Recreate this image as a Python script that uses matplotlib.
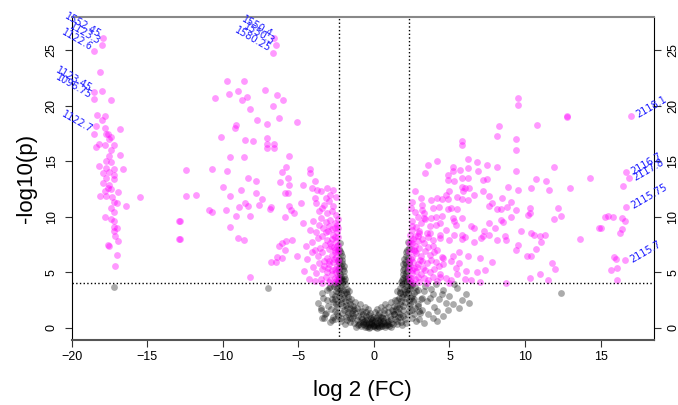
import matplotlib
matplotlib.use("Agg")
import matplotlib.pyplot as plt
import numpy as np

plt.rcParams['font.family'] = ['Liberation Sans', 'DejaVu Sans']

# significant points (log2 FC, -log10 p)
sig_far_left = [
    (-17.9, 26.1), (-17.96, 25.5), (-18.5, 24.9), (-18.1, 23.0),
    (-18.5, 21.2), (-17.96, 21.3), (-18.5, 20.6), (-17.4, 20.5),
    (-18.3, 19.2), (-17.8, 19.1), (-18.0, 18.7), (-18.4, 18.2), (-17.8, 18.0),
    (-16.8, 17.9), (-17.6, 17.5), (-18.5, 17.5), (-17.4, 17.2),
    (-17.7, 17.5), (-17.5, 17.0), (-18.2, 16.6), (-18.4, 16.3), (-17.8, 16.5),
    (-17.2, 16.5), (-17.4, 16.05), (-16.8, 15.6), (-17.5, 15.5), (-17.7, 15.0),
    (-17.4, 14.9), (-18.2, 14.6), (-17.7, 14.4), (-17.2, 14.3), (-16.6, 14.3),
    (-17.9, 13.9), (-17.5, 14.0), (-17.2, 13.8), (-17.7, 13.5), (-17.2, 13.4),
    (-17.9, 13.0), (-17.5, 12.9), (-17.6, 12.6), (-17.4, 12.5), (-17.8, 12.3),
    (-16.9, 12.2), (-18.1, 11.9), (-17.7, 11.9), (-17.3, 11.8), (-17.2, 11.3),
    (-17.0, 11.2), (-16.4, 11.0), (-15.5, 11.8), (-17.4, 10.8), (-17.2, 10.4),
    (-17.8, 10.0), (-17.4, 9.8), (-17.2, 9.6), (-17.2, 9.1), (-17.0, 9.0),
    (-17.2, 8.7), (-17.1, 8.25), (-16.9, 7.8), (-17.6, 7.5), (-17.5, 7.35),
    (-17.0, 6.6), (-17.1, 5.6),
]

sig_mid_left = [
    (-6.6, 26.1), (-6.45, 25.5), (-6.7, 24.8),
    (-12.9, 9.6), (-12.9, 8.0),
    (-9.7, 22.2), (-8.6, 22.2), (-10.5, 20.7), (-9.6, 21.1), (-9.0, 21.3),
    (-8.4, 20.8), (-8.75, 20.5), (-7.2, 21.4), (-6.4, 21.0), (-6.0, 20.5),
    (-6.7, 20.0), (-8.2, 19.7), (-7.7, 18.7), (-7.1, 18.4), (-6.3, 18.9),
    (-5.1, 18.5), (-9.1, 18.3), (-9.2, 18.0), (-10.1, 17.2), (-8.5, 16.9),
    (-8.0, 16.8), (-7.1, 17.1), (-7.05, 16.6), (-7.05, 16.2), (-6.6, 16.6),
    (-6.6, 16.2), (-9.5, 15.4), (-8.6, 15.4), (-5.6, 15.5), (-12.4, 14.2),
    (-10.7, 14.3), (-9.7, 14.1), (-5.8, 14.5), (-6.05, 14.0), (-5.7, 13.5),
    (-8.3, 13.5), (-7.8, 13.2), (-6.2, 13.1), (-5.6, 12.9), (-4.7, 12.9),
    (-4.2, 14.3), (-4.2, 13.9), (-3.9, 13.2), (-10.0, 12.7), (-8.8, 12.4),
    (-12.4, 11.9), (-11.8, 12.0), (-9.5, 11.9), (-7.8, 12.1), (-5.9, 12.1),
    (-5.7, 12.1), (-4.1, 12.6), (-3.75, 12.4), (-7.4, 11.6), (-3.9, 11.7),
    (-3.2, 11.7), (-8.5, 11.2), (-8.3, 11.0), (-7.6, 11.1), (-8.9, 10.9),
    (-6.8, 10.9), (-6.9, 10.7), (-5.6, 11.0), (-5.5, 10.6), (-5.3, 10.3),
    (-4.8, 11.2), (-10.9, 10.6), (-10.7, 10.4), (-9.8, 10.6), (-9.1, 10.1),
    (-8.2, 10.1), (-5.9, 10.0), (-12.8, 9.6), (-9.5, 9.1), (-4.7, 9.4),
    (-12.8, 8.0), (-9.0, 8.1), (-8.6, 7.9), (-6.3, 7.35), (-6.05, 7.6),
    (-5.8, 7.8), (-5.4, 7.9), (-5.9, 7.0), (-5.1, 6.5), (-6.4, 6.4),
    (-6.8, 5.9), (-6.5, 5.9), (-6.1, 6.3), (-8.2, 4.6),
]

sig_near_left = [
    (-2.4, 4.2), (-2.6, 4.5), (-2.9, 4.3), (-3.2, 4.6), (-3.5, 4.4), (-2.5, 5.0),
    (-2.8, 5.2), (-3.1, 5.0), (-3.4, 5.3), (-3.8, 4.9), (-2.45, 5.6), (-2.7, 5.9),
    (-3.0, 5.7), (-3.3, 6.0), (-3.6, 5.8), (-4.0, 5.5), (-2.5, 6.4), (-2.8, 6.6),
    (-3.1, 6.3), (-3.4, 6.8), (-3.7, 6.5), (-2.4, 7.0), (-2.65, 7.3), (-2.95, 7.1),
    (-3.25, 7.5), (-3.55, 7.2), (-3.9, 7.0), (-2.5, 7.8), (-2.8, 8.0), (-3.1, 7.9),
    (-3.4, 8.3), (-3.7, 8.1), (-4.1, 7.7), (-2.45, 8.6), (-2.75, 8.9), (-3.05, 8.7),
    (-3.35, 9.0), (-3.65, 9.3), (-2.6, 9.4), (-2.9, 9.7), (-3.2, 9.5), (-3.5, 9.9),
    (-2.5, 10.2), (-2.8, 10.5), (-3.1, 10.3), (-3.4, 10.8), (-2.7, 11.0), (-3.0, 11.4),
    (-3.3, 11.1), (-2.5, 11.8), (-2.9, 12.0), (-3.6, 10.5), (-4.2, 8.8), (-4.4, 6.2),
    (-4.6, 5.1), (-2.35, 4.7), (-2.35, 5.3), (-2.35, 6.1), (-2.35, 6.8), (-2.35, 7.5),
    (-2.35, 8.2), (-2.35, 9.0), (-2.35, 9.8), (-2.6, 4.1), (-3.0, 4.1), (-3.4, 4.05),
    (-3.9, 4.2), (-4.3, 4.4), (-2.55, 5.3), (-2.65, 6.2), (-2.55, 7.0), (-2.9, 7.6),
    (-3.0, 6.0), (-2.7, 8.4), (-3.2, 8.6), (-2.6, 9.0), (-3.3, 5.6), (-4.5, 7.4),
    (-4.0, 9.6), (-3.8, 11.2), (-3.5, 12.3), (-3.1, 12.6), (-2.7, 12.4), (-4.1, 6.8),
    (-3.8, 8.6), (-2.45, 4.4), (-2.75, 4.8), (-3.05, 5.35), (-2.4, 6.0), (-2.6, 6.8),
    (-2.85, 7.4), (-2.45, 7.4), (-2.55, 8.2), (-2.95, 9.2), (-2.45, 9.3),
]

sig_right = [
    (9.5, 20.7), (9.5, 20.1), (12.8, 19.0), (12.8, 19.1), (8.3, 18.2), (10.8, 18.3),
    (8.15, 17.3), (9.4, 17.0), (9.4, 16.0), (5.8, 16.8), (5.8, 16.5), (3.55, 14.7),
    (4.2, 15.0), (3.4, 13.9), (5.2, 14.5), (6.25, 15.2), (6.8, 14.9), (7.45, 14.7),
    (8.15, 14.5), (6.9, 14.1), (5.7, 14.2), (6.25, 14.4), (4.9, 13.8), (5.2, 14.1),
    (5.8, 13.5), (6.25, 13.5), (4.9, 13.3), (5.3, 13.2), (7.2, 13.3), (7.5, 13.4),
    (9.4, 14.1), (10.7, 13.4), (11.4, 13.2), (11.9, 14.5), (14.3, 13.5), (13.0, 12.6),
    (11.6, 12.4), (10.4, 12.6), (9.5, 12.4), (8.9, 12.7), (7.2, 12.3), (5.8, 12.7),
    (6.0, 12.6), (6.3, 12.6), (5.9, 12.3), (6.6, 12.0), (5.0, 12.3), (4.8, 12.0),
    (4.9, 11.6), (4.2, 11.7), (4.5, 11.6), (3.8, 11.5), (5.5, 11.8), (5.8, 11.6),
    (6.2, 11.5), (7.6, 11.9), (8.5, 11.7), (9.1, 11.3), (7.8, 11.2), (7.6, 11.0),
    (8.8, 10.9), (8.15, 10.7), (8.4, 10.7), (9.4, 10.6), (10.3, 10.8), (10.3, 10.3),
    (10.2, 10.2), (12.2, 10.8), (12.4, 10.1), (11.9, 9.8), (9.1, 10.0), (8.4, 9.7),
    (8.55, 9.5), (7.6, 9.4), (8.0, 9.0), (3.2, 11.1), (3.9, 10.8), (4.3, 10.9),
    (4.9, 10.7), (5.1, 10.8), (5.5, 10.7), (3.3, 10.3), (3.3, 9.9), (3.8, 9.9),
    (4.1, 10.0), (4.5, 10.1), (5.2, 9.9), (5.85, 9.9), (5.3, 9.6), (4.1, 9.3),
    (4.35, 9.4), (5.45, 9.3), (6.45, 9.2), (6.6, 9.0), (2.5, 9.2), (4.8, 8.8),
    (3.7, 8.5), (4.35, 8.4), (5.3, 8.4), (5.8, 8.4), (6.0, 8.2), (7.2, 8.3),
    (7.3, 8.7), (7.6, 8.4), (8.7, 8.3), (8.75, 7.9), (8.15, 7.9), (7.1, 8.1),
    (3.0, 8.5), (2.75, 8.3), (2.9, 7.8), (3.55, 8.2), (3.9, 7.9), (4.4, 8.1),
    (5.0, 7.9), (5.85, 8.0), (6.6, 7.7), (9.7, 8.7), (10.4, 8.5), (10.6, 8.4),
    (11.0, 8.3), (11.35, 8.4), (11.05, 7.7), (13.6, 8.0), (9.5, 7.5), (9.4, 7.0),
    (10.1, 6.5), (10.4, 6.5), (10.7, 7.1), (11.8, 5.8), (12.0, 5.3), (11.0, 4.8),
    (11.5, 4.3), (10.3, 4.5), (8.75, 4.0), (7.0, 4.1), (6.85, 5.0), (7.35, 5.2),
    (7.8, 5.9), (7.05, 6.3), (6.2, 6.5), (5.65, 6.8), (6.1, 5.1), (6.45, 4.3),
    (6.0, 4.4), (5.65, 5.8), (5.45, 5.4), (5.5, 4.8), (5.1, 4.3), (5.0, 4.0),
    (4.8, 4.5), (4.35, 4.8), (4.55, 5.7), (5.1, 6.0), (5.2, 6.5), (4.55, 6.3),
    (14.9, 9.0),
    (17.0, 19.1), (16.7, 14.0), (16.85, 13.5), (16.5, 12.8), (16.7, 10.9),
    (15.3, 10.0), (15.5, 10.1), (15.8, 10.0), (16.4, 9.9), (16.6, 9.6), (15.0, 9.0),
    (16.4, 8.9), (16.25, 8.5), (15.9, 6.4), (16.0, 6.2), (16.6, 6.1), (16.1, 5.4),
    (15.7, 5.2), (16.05, 4.3),
]

sig_near_right = [
    (2.4, 4.2), (2.7, 4.4), (3.0, 4.1), (3.3, 4.5), (3.6, 4.3), (3.9, 4.6), (4.2, 4.2),
    (2.5, 4.9), (2.8, 5.1), (3.1, 4.8), (3.4, 5.2), (3.7, 5.0), (4.0, 5.3), (2.4, 5.6),
    (2.6, 5.9), (2.9, 5.7), (3.2, 6.0), (3.5, 5.8), (3.8, 6.1), (4.1, 5.9), (2.5, 6.4),
    (2.8, 6.7), (3.1, 6.5), (3.4, 6.9), (3.7, 6.6), (4.0, 6.8), (2.45, 7.1), (2.7, 7.4),
    (3.0, 7.2), (3.3, 7.6), (3.6, 7.3), (2.6, 8.0), (2.9, 8.3), (3.2, 8.0), (3.5, 8.5),
    (2.5, 8.8), (2.8, 9.1), (3.1, 9.4), (2.35, 4.6), (2.35, 5.3), (2.35, 6.0),
    (2.35, 6.8), (2.35, 7.6), (2.4, 8.4), (2.55, 9.6), (2.9, 10.0), (2.6, 4.0),
    (3.5, 4.05), (4.4, 4.6), (4.3, 5.6), (4.5, 6.4), (2.65, 5.4), (3.05, 6.1),
    (2.75, 6.9), (3.25, 5.4), (2.55, 7.6), (3.9, 7.4), (4.2, 7.0), (3.0, 8.7),
    (3.7, 9.2), (3.35, 9.8), (2.75, 10.4), (3.15, 10.6), (2.45, 10.8), (2.7, 12.3),
    (3.1, 11.7), (2.5, 11.3), (2.45, 4.5), (2.9, 4.6), (2.55, 5.2), (2.45, 6.2),
    (2.65, 7.0), (2.45, 7.8), (2.85, 5.5),
]

# non-significant points
ns_core = [
    (-1.42, 0.9), (-1.31, 0.42), (-1.22, 1.31), (-1.15, 0.68), (-1.08, 0.21),
    (-1.02, 1.05), (-0.95, 1.52), (-0.91, 0.49), (-0.86, 0.12), (-0.8, 0.83),
    (-0.74, 1.24), (-0.69, 0.33), (-0.63, 0.62), (-0.58, 0.05), (-0.55, 1.02),
    (-0.49, 0.41), (-0.44, 0.78), (-0.4, 0.18), (-0.35, 1.12), (-0.31, 0.55),
    (-0.26, 0.08), (-0.22, 0.9), (-0.17, 0.35), (-0.12, 0.66), (-0.08, 0.15),
    (-0.03, 1.0), (0.02, 0.28), (0.06, 0.6), (0.1, 0.04), (0.15, 0.85),
    (0.19, 0.42), (0.24, 0.17), (0.28, 1.15), (0.33, 0.52), (0.37, 0.09),
    (0.42, 0.74), (0.47, 0.31), (0.51, 1.0), (0.56, 0.2), (0.61, 0.58),
    (0.66, 1.3), (0.7, 0.4), (0.75, 0.06), (0.8, 0.9), (0.85, 0.25),
    (0.9, 0.62), (0.95, 1.45), (1.0, 0.15), (1.05, 1.1), (1.1, 0.45),
    (1.16, 0.8), (1.22, 1.6), (1.28, 0.35), (1.35, 1.2), (1.42, 0.75),
    (-0.98, 0.3), (-0.6, 0.25), (-0.2, 0.5), (0.12, 0.22), (0.45, 0.12),
    (0.72, 0.22), (-0.45, 0.1), (-0.75, 0.55), (0.3, 0.7), (0.6, 0.85),
    (-0.1, 0.4), (-0.35, 0.3), (0.85, 0.5), (1.15, 0.1), (-1.2, 0.1),
    (0.0, 0.12), (0.2, 0.02), (-0.3, 0.02), (0.5, 0.45), (-0.55, 0.7),
    (0.95, 0.3), (-0.85, 1.0), (0.38, 0.95), (-0.05, 0.75), (-1.35, 1.6),
    (-1.6, 0.55), (1.55, 0.35), (1.6, 1.0), (-1.7, 1.2),
    (-1.1, 1.75), (-0.8, 1.55), (-0.55, 1.4), (-0.25, 1.3), (0.05, 1.45),
    (0.35, 1.35), (0.65, 1.6), (0.9, 1.85), (-0.95, 2.1), (-0.6, 1.9),
    (0.2, 1.7), (0.75, 2.15), (1.1, 2.3), (-1.25, 2.35), (-0.4, 1.65),
    (0.5, 1.9), (-1.9, 0.35), (-2.2, 0.6), (1.85, 0.25), (2.15, 0.45),
]

ns_left_arm = [
    (-1.55, 1.75), (-1.72, 1.45), (-1.85, 2.05), (-1.62, 2.4), (-2.0, 1.6),
    (-1.95, 2.7), (-2.15, 2.2), (-1.78, 3.05), (-2.3, 2.9), (-2.05, 3.4),
    (-2.42, 1.9), (-2.55, 2.6), (-2.2, 3.7), (-1.9, 3.9), (-2.5, 3.3),
    (-2.7, 2.3), (-2.35, 4.1), (-2.08, 4.4), (-2.25, 4.8), (-1.98, 5.1),
    (-2.3, 5.4), (-2.12, 5.8), (-2.28, 6.2), (-2.18, 6.7), (-2.3, 7.1),
    (-2.25, 7.6), (-2.8, 3.0), (-2.9, 3.7), (-3.05, 2.0), (-3.25, 1.2),
    (-2.6, 1.5), (-2.35, 1.1), (-2.1, 1.3), (-1.85, 1.0), (-1.4, 2.0),
    (-1.3, 1.7), (-2.65, 3.8), (-2.45, 3.6), (-1.7, 2.75), (-2.4, 2.3),
    (-2.85, 1.7), (-3.1, 3.4), (-3.35, 2.7), (-2.0, 4.7), (-2.15, 3.1),
    (-1.8, 3.5), (-2.28, 5.0), (-2.2, 4.3), (-1.9, 4.4), (-2.1, 6.1),
    (-1.95, 5.6), (-2.6, 0.8), (-2.9, 0.5), (-3.5, 1.6), (-3.4, 0.9),
    (-1.45, 1.3), (-1.6, 2.1), (-1.75, 1.8), (-1.9, 2.4), (-2.05, 2.0),
    (-2.2, 2.6), (-2.35, 3.2), (-2.5, 2.1), (-2.6, 2.9), (-2.75, 2.6),
    (-1.65, 3.3), (-1.85, 3.2), (-2.0, 3.0), (-2.25, 3.5), (-2.4, 4.0),
    (-2.55, 3.9), (-2.1, 4.0), (-1.95, 4.2), (-2.15, 4.6), (-2.3, 4.5),
    (-2.05, 5.3), (-2.2, 5.6), (-2.1, 6.5), (-2.25, 6.9), (-2.32, 5.8),
    (-1.5, 2.6), (-1.35, 1.1), (-1.55, 0.9), (-1.8, 0.7), (-2.15, 0.9),
    (-2.45, 1.3), (-2.7, 1.0),
]

ns_right_arm = [
    (1.45, 1.7), (1.62, 1.4), (1.7, 2.1), (1.55, 2.5), (1.9, 1.6),
    (1.85, 2.8), (2.05, 2.3), (1.75, 3.1), (2.15, 3.0), (2.0, 3.5),
    (2.3, 2.0), (2.45, 2.7), (2.1, 3.8), (1.85, 3.95), (2.35, 3.4),
    (2.6, 2.4), (2.2, 4.2), (1.95, 4.5), (2.15, 4.9), (1.9, 5.2),
    (2.25, 5.5), (2.05, 5.9), (2.28, 6.3), (2.15, 6.8), (2.3, 7.2),
    (2.25, 7.7), (2.65, 3.1), (2.75, 3.7), (2.9, 2.1), (3.05, 1.3),
    (2.5, 1.6), (2.2, 1.2), (1.95, 1.05), (1.7, 0.95), (1.3, 2.0),
    (1.25, 1.5), (2.55, 3.85), (2.4, 3.6), (1.65, 2.7), (2.3, 2.5),
    (2.75, 1.8), (2.95, 3.4), (3.2, 2.7), (1.9, 4.8), (2.05, 3.2),
    (1.75, 3.6), (2.2, 5.1), (2.1, 4.4), (1.85, 4.3), (2.0, 6.2),
    (1.9, 5.7), (2.5, 0.9), (2.8, 0.6),
    (1.35, 1.2), (1.5, 2.0), (1.65, 1.75), (1.8, 2.4), (1.95, 2.0),
    (2.1, 2.65), (2.25, 3.15), (2.4, 2.1), (2.5, 2.9), (2.65, 2.6),
    (1.55, 3.3), (1.7, 3.2), (1.9, 3.0), (2.2, 3.5), (2.3, 4.0),
    (2.45, 3.95), (2.0, 4.0), (1.8, 4.15), (2.05, 4.65), (2.25, 4.5),
    (2.0, 5.4), (2.15, 5.75), (2.1, 6.5), (2.2, 7.0), (2.3, 5.8),
    (1.4, 2.5), (1.5, 0.6), (1.75, 1.2), (2.05, 0.8), (2.35, 1.5),
    (2.65, 1.2), (1.8, 0.5),
]

ns_scatter = [
    (-3.3, 0.9), (-3.5, 1.8), (-3.1, 2.5), (-3.4, 3.1), (-3.0, 3.6), (-3.7, 2.2),
    (-3.2, 1.3), (-2.8, 0.7), (3.0, 0.8), (3.2, 1.6), (3.5, 2.4), (3.9, 3.0),
    (4.3, 2.6), (4.6, 3.4), (5.0, 2.9), (5.5, 3.6), (6.1, 3.0), (4.0, 1.9),
    (3.6, 1.2), (4.8, 2.2), (5.3, 3.9), (3.3, 3.3), (2.9, 2.0), (5.8, 2.5),
    (3.4, 3.8), (3.8, 3.5), (4.1, 3.9), (4.5, 3.0), (3.7, 2.7), (4.2, 1.5),
    (4.9, 1.6), (5.2, 2.1), (3.1, 2.6), (2.8, 3.3), (3.3, 0.4), (4.6, 1.1),
    (5.6, 1.8), (6.3, 2.2), (3.0, 1.5), (3.9, 0.9),
    (-7.0, 3.6), (-17.2, 3.7), (12.4, 3.1), (4.2, 0.6),
]

left_labels = ["1552.45", "1123.3", "1122.6", "1123.45", "1096.75", "1122.7",
               "1550.4", "1550.3", "1580.25"]
left_label_pts = [(-17.9, 26.1), (-17.96, 25.5), (-18.5, 24.9), (-18.5, 21.2),
                  (-18.5, 20.6), (-18.5, 17.5), (-6.6, 26.1), (-6.45, 25.5),
                  (-6.7, 24.8)]
right_labels = ["2118.1", "2116.7", "2117.8", "2115.75", "2115.7"]
right_label_pts = [(17.0, 19.1), (16.7, 14.0), (16.85, 13.5), (16.7, 10.9),
                   (16.6, 6.1)]

fc_cut = 2.32
p_cut = 4

fig = plt.figure(figsize=(6.78, 4.05), dpi=100)
ax = fig.add_axes([0.1055, 0.1617, 0.8585, 0.7963])

ns = np.array(ns_core + ns_left_arm + ns_right_arm + ns_scatter)
ax.scatter(ns[:, 0], ns[:, 1], s=24, c='black', alpha=0.33, linewidths=0)

sig = np.array(sig_far_left + sig_mid_left + sig_near_left + sig_right + sig_near_right)
ax.scatter(sig[:, 0], sig[:, 1], s=24, c='#ff00ff', alpha=0.4, linewidths=0)

ax.axvline(-fc_cut, color='black', ls=':', lw=1)
ax.axvline(fc_cut, color='black', ls=':', lw=1)
ax.axhline(p_cut, color='black', ls=':', lw=1)

for lbl, (x, y) in zip(left_labels, left_label_pts):
    ax.annotate(lbl, (x, y), xytext=(-2, 2), textcoords='offset points',
                rotation=-30, ha='right', va='center', rotation_mode='anchor',
                color='#1a1aff', fontsize=7, family='DejaVu Sans', annotation_clip=False)
for lbl, (x, y) in zip(right_labels, right_label_pts):
    ax.annotate(lbl, (x, y), xytext=(4, 0), textcoords='offset points',
                rotation=30, ha='left', va='center', rotation_mode='anchor',
                color='#1a1aff', fontsize=7, family='DejaVu Sans', annotation_clip=False)

ax.set_xlim(-20, 18.5)
ax.set_ylim(-1.06, 28.0)
ax.set_xticks(range(-20, 16, 5))
ax.set_yticks(range(0, 26, 5))
ax.tick_params(axis='both', length=5, width=0.8, labelsize=9, color='#333333')
ax.tick_params(axis='y', right=True, labelright=True, labelrotation=90, pad=5)
for t in ax.yaxis.get_major_ticks():
    t.label1.set_va('center')
    t.label2.set_va('center')

ax.spines['left'].set_color('black')
ax.spines['right'].set_color('black')
ax.spines['top'].set_color('#888888')
ax.spines['bottom'].set_color('#555555')
ax.spines['top'].set_linewidth(1.5)
ax.spines['bottom'].set_linewidth(1.5)

ax.set_xlabel("log 2 (FC)", fontsize=16, labelpad=12)
ax.set_ylabel("-log10(p)", fontsize=16, labelpad=6)

plt.savefig("out.png", dpi=100)
